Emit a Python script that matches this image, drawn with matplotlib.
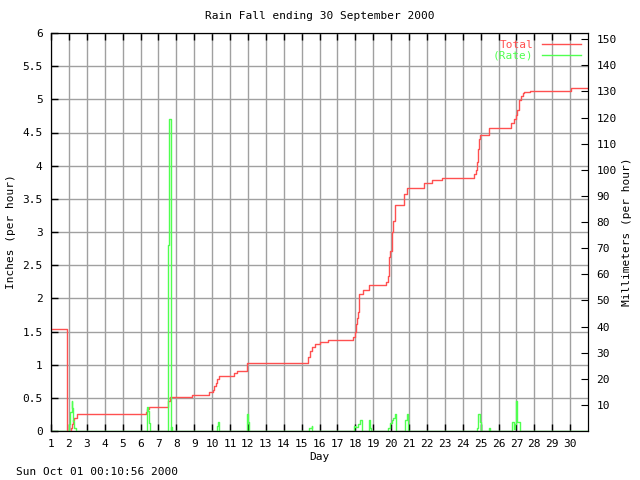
import matplotlib
matplotlib.use('Agg')
import matplotlib.pyplot as plt

# rainfall total (inches), step changes: day -> value
total_day = [1.0, 1.90, 2.10, 2.17, 2.22, 2.30, 2.43, 6.30, 6.38, 6.47, 7.56, 7.64,
             8.86, 9.84, 10.03, 10.12, 10.20, 10.30, 10.40, 11.22, 11.37, 11.97,
             15.37, 15.45, 15.58, 15.77, 16.03, 16.46, 17.89, 17.97, 18.02, 18.10,
             18.17, 18.22, 18.41, 18.78, 19.72, 19.80, 19.90, 19.96, 20.05, 20.13,
             20.20, 20.74, 20.89, 21.84, 22.30, 22.86, 24.64, 24.72, 24.78, 24.84,
             24.90, 24.97, 25.47, 26.70, 26.85, 26.96, 27.05, 27.15, 27.25, 27.35,
             27.45, 27.76, 30.03, 31.0]
total_in = [1.54, 0.0, 0.05, 0.10, 0.17, 0.20, 0.25, 0.29, 0.33, 0.36, 0.45, 0.51,
            0.55, 0.59, 0.62, 0.68, 0.72, 0.78, 0.83, 0.87, 0.90, 1.03,
            1.12, 1.20, 1.27, 1.31, 1.34, 1.37, 1.42, 1.50, 1.61, 1.70,
            1.79, 2.07, 2.13, 2.20, 2.25, 2.33, 2.63, 2.72, 3.00, 3.16,
            3.40, 3.58, 3.66, 3.74, 3.78, 3.82, 3.87, 3.93, 4.05, 4.25,
            4.40, 4.46, 4.57, 4.65, 4.70, 4.76, 4.84, 4.99, 5.05, 5.09,
            5.11, 5.13, 5.17, 5.17]

# rain rate (inches per hour)
rate_day = [1.0, 2.00, 2.07, 2.15, 2.20, 2.25, 2.30, 2.42,
            6.35, 6.38, 6.44, 6.50, 6.55,
            7.55, 7.60, 7.68, 7.72, 7.76,
            10.30, 10.35, 10.40,
            11.95, 12.00, 12.05,
            15.43, 15.56, 15.60,
            17.93, 18.00, 18.15, 18.26, 18.35, 18.40,
            18.75, 18.82, 18.87,
            19.85, 19.95, 20.05, 20.12, 20.20, 20.28,
            20.78, 20.87, 20.95,
            24.78, 24.87, 24.95, 25.03,
            25.45, 25.50,
            26.75, 26.87, 26.92, 26.98, 27.03, 27.10, 27.20, 31.0]
rate_in = [0.0, 0.10, 0.28, 0.45, 0.35, 0.15, 0.04, 0.0,
           0.20, 0.36, 0.30, 0.12, 0.0,
           2.80, 4.70, 0.0, 0.06, 0.0,
           0.08, 0.13, 0.0,
           0.26, 0.13, 0.0,
           0.05, 0.08, 0.0,
           0.08, 0.06, 0.10, 0.16, 0.05, 0.0,
           0.16, 0.05, 0.0,
           0.05, 0.12, 0.16, 0.20, 0.25, 0.0,
           0.16, 0.25, 0.0,
           0.05, 0.25, 0.13, 0.0,
           0.05, 0.0,
           0.13, 0.03, 0.10, 0.45, 0.13, 0.13, 0.0, 0.0]

days = list(range(1, 31))
inch_ticks = [i * 0.5 for i in range(13)]
mm_ticks = list(range(10, 151, 10))

plt.rcParams['font.family'] = 'DejaVu Sans Mono'
plt.rcParams['font.size'] = 8

fig = plt.figure(figsize=(6.4, 4.8), dpi=100)
ax = fig.add_axes([51 / 640, 49 / 480, 537 / 640, 398 / 480])

ax.plot(total_day, total_in, drawstyle='steps-post', color='#ff5050', lw=1, label='Total')
ax.plot(rate_day, rate_in, drawstyle='steps-post', color='#50ff50', lw=1, label='(Rate)')

ax.set_xlim(1, 31)
ax.set_ylim(0, 6)
ax.set_xticks(days)
ax.set_yticks(inch_ticks)
ax.set_yticklabels(['%g' % v for v in inch_ticks])
ax.grid(True, color='#a0a0a0', lw=1)
ax.set_axisbelow(True)
ax.tick_params(direction='in', length=5, top=True, right=True, width=1, pad=6)

ax.set_title('Rain Fall ending 30 September 2000', fontsize=8, pad=10)
ax.set_xlabel('Day', labelpad=2)
ax.set_ylabel('Inches (per hour)')
ax.yaxis.set_label_coords(-0.066, 0.5)

ax2 = ax.twinx()
ax2.set_ylim(0, 6 * 25.4)
ax2.set_yticks(mm_ticks)
ax2.tick_params(direction='in', length=5, pad=6)
ax2.set_ylabel('Millimeters (per hour)')
ax2.yaxis.set_label_coords(1.064, 0.5)

leg = ax.legend(loc='upper right', frameon=False, markerfirst=False,
                labelcolor='linecolor', handlelength=3.5, borderaxespad=0.2,
                labelspacing=0.1, fontsize=8)

fig.text(16 / 640, 1 - 472 / 480, 'Sun Oct 01 00:10:56 2000', va='center', fontsize=8)

fig.savefig('out.png', dpi=100)
